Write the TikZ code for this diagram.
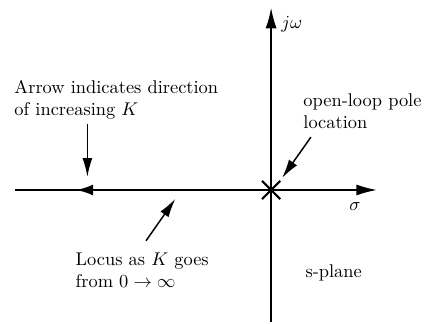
\documentclass[tikz,border=0pt]{standalone}
\usepackage{amsmath,amssymb}
\usepackage{tikz}
\usetikzlibrary{arrows.meta,positioning,shapes.misc}

\begin{document}
\begin{tikzpicture}[
    >=Latex,
    axis/.style={
        line width=0.8pt,
        -{Latex[length=0.39cm,width=0.21cm]}
    },
    locus/.style={
        line width=1.6pt
    },
    label/.style={
        inner sep=0pt,
        align=left
    },
    pointer/.style={
        line width=0.8pt,
        -{Latex[length=0.36cm,width=0.19cm]}
    },
    polemark/.style={
        draw,
        cross out,
        line width=1.1pt,
        minimum size=0.31cm,
        inner sep=0pt
    }
]
\useasboundingbox (-5.18,-2.56) rectangle (2.94,3.63);

% open-loop pole and axis ends
\node[polemark] (pole) at (0,0) {};
\coordinate (imtop) at (0,3.48);
\coordinate (imbot) at (0,-2.52);
\coordinate (reend) at (2.02,0);
\coordinate (locusend) at (-4.89,0);
\coordinate (locustip) at (-3.74,0);

% axes
\draw[axis] (imbot) -- (imtop);
\draw[axis] (pole.center) -- (reend);
\node[anchor=base west, inner sep=0pt] (jw) at (0.19,3.09) {$j\omega$};
\node[inner sep=0pt] (sigma) at (1.60,-0.32) {$\sigma$};

% root locus on the real axis
\draw[locus] (pole.center) -- (locusend);
\draw[locus,-{Latex[length=0.34cm,width=0.21cm]}] (pole.center) -- (locustip);

% annotations
\node[label, anchor=north west] (dirnote) at (-4.91,2.10) {Arrow indicates direction\\of increasing $K$};
\node[label, anchor=north west] (polenote) at (0.61,1.85) {open-loop pole\\location};
\node[label, anchor=north west] (locusnote) at (-3.74,-1.19) {Locus as $K$ goes\\from $0\rightarrow\infty$};
\node[anchor=base west, inner sep=0pt] (plane) at (0.65,-1.68) {s-plane};

\coordinate (dirtail) at (-3.51,1.26);
\coordinate (dirhead) at (-3.51,0.25);
\coordinate (poletail) at (0.76,1.01);
\coordinate (polehead) at (0.21,0.23);
\coordinate (locustail) at (-2.39,-0.97);
\coordinate (locushead) at (-1.83,-0.17);

\draw[pointer] (dirtail) -- (dirhead);
\draw[pointer] (poletail) -- (polehead);
\draw[pointer] (locustail) -- (locushead);

\end{tikzpicture}
\end{document}
